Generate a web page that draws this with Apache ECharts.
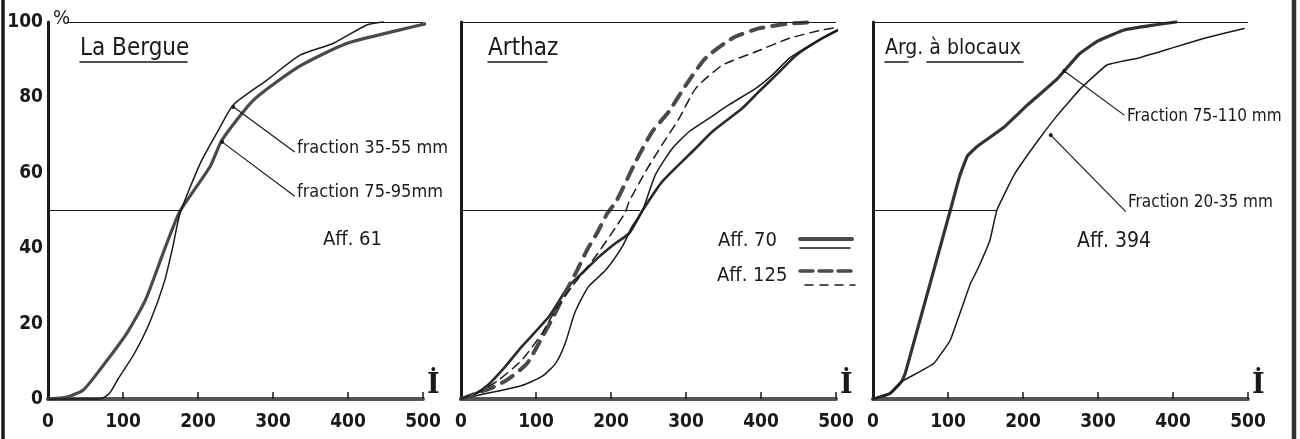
<!DOCTYPE html>
<html><head><meta charset="utf-8">
<script src="https://cdn.jsdelivr.net/npm/echarts@6/dist/echarts.min.js"></script>
<style>html,body{margin:0;padding:0;background:#fff}#c{width:1300px;height:439px}</style>
</head><body><div id="c"></div>
<script>
// ---- data (x = I, y = cumulative %) ----
const xTicks = [0, 100, 200, 300, 400, 500];
const yTicks = [0, 20, 40, 60, 80, 100];
const panelTitles = ['La Bergue', 'Arthaz', 'Arg. à blocaux'];

// La Bergue
const bergue3555 = [[0,0],[69,0],[82,1.5],[94,5.5],[115,12],[136,20.5],[155,31],[166,40],[176,49.2],[203,62.5],[225,70.5],[247,78],[292,84.6],[336,91.2],[380,94.3],[425,99.2],[447,100]];
const bergue7595 = [[0,0],[25,0.5],[47,2.4],[69,7.7],[105,17.4],[130,26.3],[155,39.5],[176,49.8],[216,61.6],[232,68.7],[274,79.3],[334,88.1],[398,94.3],[469,97.9],[503,99.5]];

// Arthaz
const arthaz70thick = [[0,0],[20,1.5],[36,3.7],[59,8.6],[81,13.9],[117,21.8],[143,29.8],[161,33.3],[184,37.7],[206,41.3],[224,43.9],[235,47.5],[242,50],[268,57.6],[313,66.5],[335,70.9],[375,77.1],[397,81.5],[420,85.9],[447,91.2],[482,95.7],[512,98.8]];
const arthaz70thin = [[0,0],[35,1.5],[80,3.5],[108,6],[126,9.4],[139,14.8],[152,23],[170,29.8],[193,34.2],[215,40.4],[228,45.7],[242,50],[259,59.4],[282,66.5],[304,70.9],[331,74.5],[357,78],[393,82.4],[415,85.9],[438,90.4],[482,95.7],[512,98.8]];
const arthaz125thick = [[0,0],[20,1.5],[39,2.8],[61,5],[88,9.4],[106,15.6],[123,21.8],[141,28.9],[155,34.2],[168,39.5],[181,43.9],[195,49.2],[208,52.8],[233,63],[255,70.9],[277,76.2],[300,83.3],[326,90.4],[362,95.7],[397,98.3],[438,99.6],[473,100]];
const arthaz125thin = [[0,0],[25,2],[50,5],[81,10.3],[108,17.4],[126,23.6],[148,29.8],[179,37.7],[201,44],[219,49.5],[224,52.3],[246,60.3],[268,67.4],[291,74.5],[313,82.4],[349,88.6],[393,92.1],[438,95.7],[482,97.9],[505,98.7]];

// Arg. à blocaux
const arg75110 = [[0,0],[23,1.5],[38,4.6],[43,6.8],[103,50],[116,59.4],[126,64.5],[139,67],[174,72],[206,78],[246,85],[275,91.5],[300,95],[335,97.9],[375,99.2],[404,100]];
const arg2035 = [[0,0],[23,1.5],[38,4.6],[60,7],[81,9.4],[103,15.6],[130,30.7],[139,34.2],[156,42.2],[165,50],[188,59.4],[219,68.3],[246,75.3],[277,82.4],[312,88.6],[353,90.4],[397,93],[442,95.7],[495,98.3]];

// median (50 %) reading lines
const medianX = [176, 239, 165];

// ---- chart ----
const FONT = "'Liberation Sans Narrow','DejaVu Sans Condensed',sans-serif";
const INK = '#1a1a1a', GREY = '#4a4a4a';
const chart = echarts.init(document.getElementById('c'), null, {renderer:'canvas'});
const gridLefts = [48, 461, 873];
const grids = gridLefts.map(l => ({left:l, top:22, width:375, height:377}));

const xAxes = grids.map((g,i) => ({
  type:'value', gridIndex:i, min:xTicks[0], max:xTicks[xTicks.length-1], interval:100,
  axisLine:{show:true, lineStyle:{color:'#555', width:4}},
  axisTick:{show:true, length:-7, lineStyle:{color:INK, width:1.5}},
  axisLabel:{show:true, margin:14, fontFamily:FONT, fontSize:19, fontWeight:'bold', color:INK},
  splitLine:{show:false},
  name:'İ', nameLocation:'end', nameGap:4,
  nameTextStyle:{fontFamily:"'DejaVu Serif',serif", fontWeight:'bold', fontSize:27, color:INK, verticalAlign:'bottom', align:'left', padding:[0,0,0,0]}
}));
const yAxes = grids.map((g,i) => ({
  type:'value', gridIndex:i, min:yTicks[0], max:yTicks[yTicks.length-1], interval:20,
  axisLine:{show:true, lineStyle:{color:INK, width:3}},
  axisTick:{show:false},
  axisLabel:{show:i===0, margin:5, fontFamily:FONT, fontSize:19, fontWeight:'bold', color:INK},
  splitLine:{show:false}
}));

function curve(data, idx, width, color, dash, smooth) {
  return {type:'line', xAxisIndex:idx, yAxisIndex:idx, data:data, symbol:'none', showSymbol:false,
    smooth: smooth === undefined ? 0.2 : smooth, clip:false, silent:true, animation:false, z:3,
    lineStyle:{width:width, color:color, type: dash || 'solid', cap:'round', join:'round'}};
}
function refLines(idx, topStart, medX, pointers) {
  const data = [
    [{coord:[topStart,100], symbol:'none'}, {coord:[500,100], symbol:'none'}],
    [{coord:[0,50], symbol:'none'}, {coord:[medX,50], symbol:'none'}]
  ];
  pointers.forEach(p => data.push([{coord:p[0], symbol:'circle', symbolSize:4}, {coord:p[1], symbol:'none'}]));
  return {silent:true, animation:false, symbol:['none','none'], label:{show:false},
    lineStyle:{color:INK, width:1.2, type:'solid'}, emphasis:{disabled:true}, data:data};
}

const s1a = curve(bergue7595, 0, 3.2, GREY);
s1a.markLine = refLines(0, 25, medianX[0], [[[247,77.5],[329,65.5]], [[232,68.2],[329,53.8]]]);
const s1b = curve(bergue3555, 0, 1.5, INK);

const s2a = curve(arthaz70thick, 1, 2.6, '#2a2a2a');
s2a.markLine = refLines(1, 0, medianX[1], []);
const s2b = curve(arthaz70thin, 1, 1.5, INK);
const s2c = curve(arthaz125thick, 1, 4, GREY, [13,9]);
const s2d = curve(arthaz125thin, 1, 1.5, INK, [9,6]);

const s3a = curve(arg75110, 2, 3.2, '#333', null, 0.1);
s3a.markLine = refLines(2, 0, medianX[2], [[[255,87],[335,75.3]], [[237,70],[337,49.7]]]);
const s3b = curve(arg2035, 2, 1.5, INK, null, 0.1);

function txt(x, y, s, size, extra) {
  return Object.assign({type:'text', left:x, top:y, silent:true,
    style:{text:s, fontFamily:FONT, fontSize:size, fill:INK}}, extra||{});
}
function ln(x1,y1,x2,y2,w,color,dash) {
  return {type:'line', silent:true, shape:{x1:x1,y1:y1,x2:x2,y2:y2},
    style:{stroke:color||INK, lineWidth:w, lineDash:dash||null, lineCap:'round'}};
}

const graphics = [
  // outer frame
  ln(3,0,3,439,3.5,INK), ln(1294,0,1294,439,4.5,'#333'),
  // "%" mark at top of first axis
  txt(53, 9, '%', 20),
  // titles
  txt(80, 37, panelTitles[0], 24), ln(80,62,187,62,1.6),
  txt(488, 37, panelTitles[1], 24), ln(488,62,547,62,1.6),
  txt(885, 38, panelTitles[2], 21), ln(885,62,908,62,1.6), ln(927,62,1023,62,1.6),
  // La Bergue labels
  txt(297, 139, 'fraction 35-55 mm', 18),
  txt(297, 183, 'fraction 75-95mm', 18),
  txt(323, 230, 'Aff. 61', 20),
  // Arthaz legend
  txt(718, 231, 'Aff. 70', 20),
  txt(717, 266, 'Aff. 125', 20),
  ln(800,239,852,239,4,GREY), ln(800,248,850,248,1.5,INK),
  ln(800,271,857,271,3.5,GREY,[13,6]), ln(805,285,855,285,1.5,INK,[8,7]),
  // Arg. à blocaux labels
  txt(1127, 108, 'Fraction 75-110 mm', 17),
  txt(1128, 194, 'Fraction 20-35 mm', 17),
  txt(1077, 231, 'Aff. 394', 21)
];

chart.setOption({
  animation:false,
  backgroundColor:'#ffffff',
  grid:grids, xAxis:xAxes, yAxis:yAxes,
  series:[s1a,s1b,s2a,s2b,s2c,s2d,s3a,s3b],
  graphic:graphics
});
</script></body></html>
